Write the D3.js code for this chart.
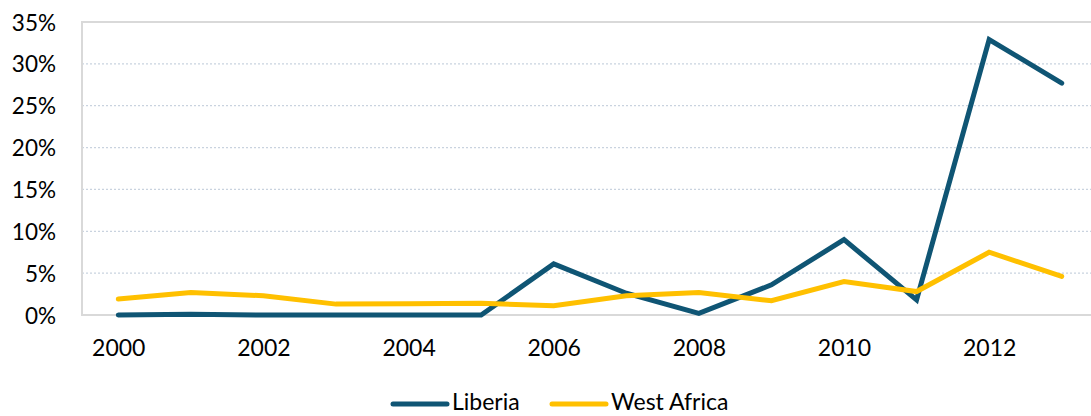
<!DOCTYPE html>
<html><head><meta charset="utf-8">
<script src="https://cdn.jsdelivr.net/npm/d3@7"></script>
<style>body{margin:0;background:#fff}svg text{font-family:Lato,"Open Sans",sans-serif;fill:#000}</style>
</head><body><svg id="c" width="1091" height="416"></svg>
<script>
const years = [2000,2001,2002,2003,2004,2005,2006,2007,2008,2009,2010,2011,2012,2013];
const liberia = [0.0,0.1,0.0,0.0,0.0,0.0,6.1,2.6,0.2,3.6,9.0,1.8,32.9,27.7];
const westAfrica = [1.9,2.7,2.3,1.3,1.35,1.4,1.1,2.3,2.7,1.7,4.0,2.8,7.5,4.6];
const yTicks = [0,5,10,15,20,25,30,35];
const xTicks = [2000,2002,2004,2006,2008,2010,2012];
const seriesNames = ["Liberia","West Africa"];
const colors = ["#0f5574","#ffc000"];

const svg = d3.select("#c");
const L=82, T=22, B=315, R=1098;
const x = d3.scalePoint().domain(years).range([L,R]).padding(0.5);
const y = d3.scaleLinear().domain([0,35]).range([B,T]);

// gridlines
svg.append("g").selectAll("line").data(yTicks.filter(d=>d>0&&d<35)).join("line")
  .attr("x1",L).attr("x2",1091).attr("y1",d=>y(d)).attr("y2",d=>y(d))
  .attr("stroke","#c9d3df").attr("stroke-width",1.2).attr("stroke-dasharray","2,2");
// plot border
svg.append("path").attr("d",`M${1091},${T}H${L}V${B}H1091`).attr("fill","none")
  .attr("stroke","#d9d9d9").attr("stroke-width",2);

// y axis
const ya = svg.append("g").attr("transform",`translate(${L},0)`)
  .call(d3.axisLeft(y).tickValues(yTicks).tickFormat(d=>d+"%").tickSize(0).tickPadding(26));
ya.select(".domain").remove();
ya.selectAll("text").attr("font-size",22.5).attr("dy","0.36em");
// x axis
const xa = svg.append("g").attr("transform",`translate(0,${B})`)
  .call(d3.axisBottom(x).tickValues(xTicks).tickSize(0).tickPadding(25));
xa.select(".domain").remove();
xa.selectAll("text").attr("font-size",23);

const line = d3.line().x((d,i)=>x(years[i])).y(d=>y(d));
[liberia,westAfrica].forEach((s,k)=>{
  svg.append("path").datum(s).attr("d",line).attr("fill","none")
    .attr("stroke",colors[k]).attr("stroke-width",5).attr("stroke-linejoin","miter").attr("stroke-linecap","round");
});

// legend
const lg = [{x:393,n:seriesNames[0],c:colors[0]},{x:552,n:seriesNames[1],c:colors[1]}];
lg.forEach(o=>{
  svg.append("line").attr("x1",o.x).attr("x2",o.x+54).attr("y1",404).attr("y2",404)
    .attr("stroke",o.c).attr("stroke-width",5).attr("stroke-linecap","round");
  svg.append("text").attr("x",o.x+59).attr("y",410).attr("font-size",23).text(o.n);
});
</script></body></html>
